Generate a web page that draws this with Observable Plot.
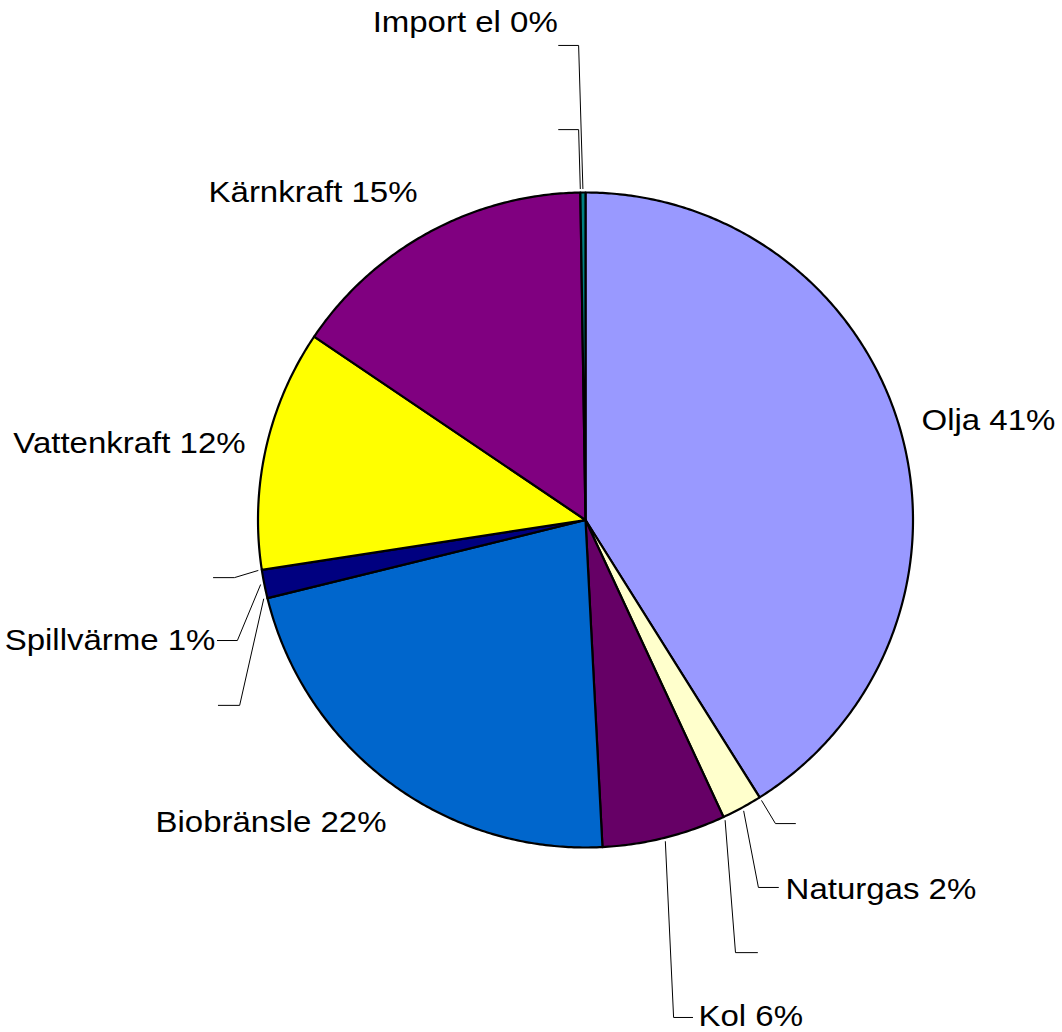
<!DOCTYPE html>
<html><head><meta charset="utf-8">
<script src="https://cdn.jsdelivr.net/npm/d3@7"></script>
<script src="https://cdn.jsdelivr.net/npm/@observablehq/plot@0.6"></script>
<style>html,body{margin:0;padding:0;background:#fff;} svg{display:block;}</style>
</head><body><div id="chart"></div>
<script>
// Data (clockwise from 12 o'clock); empty names are zero-valued categories
const categories = ["Olja", "", "Naturgas", "", "Kol", "", "Biobränsle", "", "Spillvärme", "", "Vattenkraft", "", "Kärnkraft", "", "Import el"];
const values = [41.1, 0, 2.0, 0, 6.1, 0, 22.0, 0, 1.4, 0, 11.9, 0, 15.3, 0, 0.25];
const colors = ["#9999FF", "#993366", "#FFFFCC", "#CCFFFF", "#660066", "#FF8080", "#0066CC", "#CCCCFF", "#000080", "#FF00FF", "#FFFF00", "#00FFFF", "#800080", "#800000", "#008080"];

// Label layout (in pie-radius units, centre = 0,0)
const labelLayout = [
  {i: 0, x: 1.026, y: 0.276, anchor: "start"},
  {i: 2, x: 0.611, y: -1.156, anchor: "start"},
  {i: 4, x: 0.345, y: -1.545, anchor: "start"},
  {i: 6, x: -1.313, y: -0.954, anchor: "start"},
  {i: 8, x: -1.130, y: -0.398, anchor: "end"},
  {i: 10, x: -1.747, y: 0.206, anchor: "start"},
  {i: 12, x: -1.151, y: 0.9725, anchor: "start"},
  {i: 14, x: -0.650, y: 1.489, anchor: "start"}
];
const leaderLayout = [
  {i: 1, elbow: [0.580, -0.927], end: [0.641, -0.927]},
  {i: 2, elbow: [0.528, -1.122], end: [0.589, -1.122]},
  {i: 3, elbow: [0.458, -1.321], end: [0.525, -1.321]},
  {i: 4, elbow: [0.269, -1.519], end: [0.327, -1.519]},
  {i: 7, elbow: [-1.056, -0.566], end: [-1.121, -0.566]},
  {i: 8, elbow: [-1.063, -0.368], end: [-1.124, -0.368]},
  {i: 9, elbow: [-1.072, -0.176], end: [-1.136, -0.176]},
  {i: 13, elbow: [-0.021, 1.192], end: [-0.082, 1.192]},
  {i: 14, elbow: [-0.021, 1.449], end: [-0.082, 1.449]}
];

const total = d3.sum(values);
const slices = [];
let acc = 0;
values.forEach((v, i) => {
  const a0 = acc / total * 2 * Math.PI;
  acc += v;
  const a1 = acc / total * 2 * Math.PI;
  slices.push({i, a0, a1, mid: (a0 + a1) / 2});
});

const piePts = [];
slices.filter(s => values[s.i] > 0).forEach(s => {
  piePts.push({k: s.i, x: 0, y: 0, fill: colors[s.i]});
  const n = Math.max(2, Math.ceil((s.a1 - s.a0) / (Math.PI / 360)));
  for (let j = 0; j <= n; j++) {
    const a = s.a0 + (s.a1 - s.a0) * j / n;
    piePts.push({k: s.i, x: Math.sin(a), y: Math.cos(a), fill: colors[s.i]});
  }
});

const leaderPts = [];
leaderLayout.forEach(L => {
  const m = slices[L.i].mid, r = 1.012;
  leaderPts.push({k: L.i, x: r * Math.sin(m), y: r * Math.cos(m)});
  leaderPts.push({k: L.i, x: L.elbow[0], y: L.elbow[1]});
  leaderPts.push({k: L.i, x: L.end[0], y: L.end[1]});
});

const labels = labelLayout.map(L => ({
  x: L.x, y: L.y, anchor: L.anchor,
  text: `${categories[L.i]} ${Math.round(values[L.i] / total * 100)}%`
}));

const font = "'Liberation Sans', Arial, sans-serif";
const chart = Plot.plot({
  width: 1062,
  height: 1032,
  marginLeft: 257.5,
  marginRight: 149.5,
  marginTop: 192,
  marginBottom: 185,
  x: {domain: [-1, 1], axis: null},
  y: {domain: [-1, 1], axis: null},
  color: {type: "identity"},
  style: {background: "#fff", overflow: "visible"},
  marks: [
    Plot.line(piePts, {x: "x", y: "y", z: "k", fill: "fill", stroke: "#000", strokeWidth: 2.2, curve: "linear-closed", strokeLinejoin: "round"}),
    Plot.line(leaderPts, {x: "x", y: "y", z: "k", stroke: "#000", strokeWidth: 1}),
    Plot.text(labels.filter(d => d.anchor === "start"), {x: "x", y: "y", text: "text", textAnchor: "start", lineAnchor: "bottom", fontSize: 30, fontFamily: font, fill: "#000"}),
    Plot.text(labels.filter(d => d.anchor === "end"), {x: "x", y: "y", text: "text", textAnchor: "end", lineAnchor: "bottom", fontSize: 30, fontFamily: font, fill: "#000"})
  ]
});
document.getElementById("chart").appendChild(chart);
// horizontally stretch label glyphs as in the original rendering
chart.querySelectorAll("text").forEach(el => {
  const x = +(el.getAttribute("x") || 0);
  el.setAttribute("transform", (el.getAttribute("transform") || "") + ` translate(${x},0) scale(1.1,1) translate(${-x},0)`);
});
</script>
</body></html>
